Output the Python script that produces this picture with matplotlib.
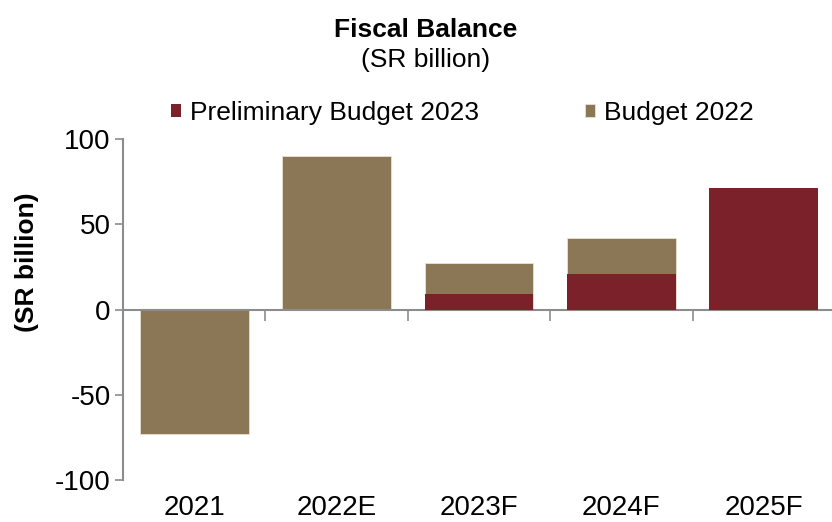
import numpy as np
import matplotlib.pyplot as plt

plt.rcParams['font.family'] = ['Liberation Sans', 'DejaVu Sans']
plt.rcParams['axes.unicode_minus'] = False

years = ['2021', '2022E', '2023F', '2024F', '2025F']
budget_2022 = [-73, 90, 27, 42, np.nan]
prelim_2023 = [np.nan, np.nan, 9, 21, 71]

brown = '#8B7755'
red = '#7B2129'
grey = '#8C8C8C'

fig = plt.figure(figsize=(8.32, 5.22), dpi=100)
ax = fig.add_axes([123 / 832, 42 / 522, 712 / 832, 341 / 522])

x = np.arange(len(years))
ax.bar(x, budget_2022, width=0.765, color=brown, edgecolor='#E8E2D6', linewidth=0.6,
       label='Budget 2022', zorder=2)
ax.bar(x, prelim_2023, width=0.765, color=red, label='Preliminary Budget 2023', zorder=3)

ax.set_xlim(-0.5, len(years) - 0.5)
ax.set_ylim(-100, 100)
ax.set_yticks([-100, -50, 0, 50, 100])
ax.tick_params(axis='y', direction='out', length=6, width=1.2, color=grey,
               labelsize=20, pad=3)

# zero line with ticks between categories
ax.spines['bottom'].set_position(('data', 0))
ax.spines['bottom'].set_color(grey)
ax.spines['bottom'].set_linewidth(1.5)
ax.spines['left'].set_color(grey)
ax.spines['left'].set_linewidth(1.5)
ax.spines['top'].set_visible(False)
ax.spines['right'].set_visible(False)
ax.set_xticks(x[:-1] + 0.5)
ax.tick_params(axis='x', direction='out', length=8, width=1.2, color=grey,
               labelbottom=False)

# category labels along the bottom of the plot
sec = ax.secondary_xaxis('bottom')
sec.set_xticks(x, years)
sec.tick_params(length=0, labelsize=20, pad=11)
sec.spines['bottom'].set_visible(False)

ax.set_ylabel('(SR billion)', fontsize=19, fontweight='bold')
ax.yaxis.set_label_coords(-0.118, 0.64)

fig.text(0.511, 0.942, 'Fiscal Balance', ha='center', va='center',
         fontsize=19, fontweight='bold')
fig.text(0.511, 0.886, '(SR billion)', ha='center', va='center', fontsize=19)

handles, labels = ax.get_legend_handles_labels()
fig.legend(handles[::-1], labels[::-1], loc='center', bbox_to_anchor=(0.556, 0.783),
           ncol=2, frameon=False, fontsize=19, handlelength=0.38, handleheight=0.38,
           handletextpad=0.35, columnspacing=4.0)

fig.savefig('out.png', dpi=100)
